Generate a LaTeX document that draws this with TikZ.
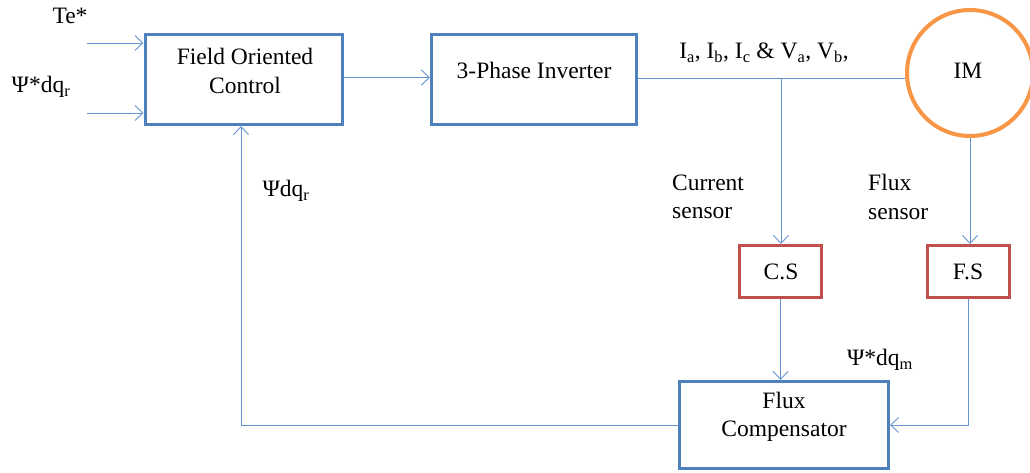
\documentclass[tikz,border=0pt]{standalone}
\usepackage{fontspec}
\setmainfont{Liberation Serif}
\usetikzlibrary{arrows.meta}
\definecolor{bxblue}{RGB}{79,129,189}
\definecolor{bxred}{RGB}{192,80,77}
\definecolor{imorange}{RGB}{247,150,70}
\definecolor{wirecol}{RGB}{100,148,208}
\begin{document}
\begin{tikzpicture}[x=1pt,y=-1pt,
  every node/.style={font=\fontsize{23.5}{28.5}\selectfont, inner sep=0pt},
  bluebox/.style={draw=bxblue, line width=3pt},
  redbox/.style={draw=bxred, line width=3pt},
  wire/.style={draw=wirecol, line width=0.9pt},
  arr/.style={wire, -{Straight Barb[length=8pt,width=15pt]}},
  txt/.style={align=center}]
\useasboundingbox (0,0) rectangle (1030,473);
% boxes
\node[bluebox, minimum width=197, minimum height=90] (foc) at (243.5,79.5) {};
\node[bluebox, minimum width=205, minimum height=90] (inv) at (534,79.5) {};
\node[redbox, minimum width=82, minimum height=52] (cs) at (780.5,271.5) {};
\node[redbox, minimum width=82, minimum height=52] (fs) at (968.5,271.5) {};
\node[bluebox, minimum width=209, minimum height=87] (fc) at (784,425) {};
\node[circle, draw=imorange, line width=4pt, minimum size=126] (im) at (970,73) {};
% box texts
\node[txt] (focT) at (245,71) {Field Oriented\\Control};
\node (invT) at (534,70) {3-Phase Inverter};
\node (imT) at (968,71) {IM};
\node (csT) at (781,272) {C.S};
\node (fsT) at (968,272) {F.S};
\node[txt] (fcT) at (784,417) {Flux\\Compensator};
% labels
\node (te) at (70,16) {Te*};
\node (psiref) at (41,87) {Ψ*dq\textsubscript{r}};
\node (iv) at (764,53) {I\textsubscript{a}, I\textsubscript{b}, I\textsubscript{c} \& V\textsubscript{a}, V\textsubscript{b},};
\node[align=left, anchor=west] (curs) at (672,197) {Current\\sensor};
\node[align=left, anchor=west] (fluxs) at (868,197) {Flux\\sensor};
\node (psim) at (880,360) {Ψ*dq\textsubscript{m}};
\node (psir) at (286,191) {Ψdq\textsubscript{r}};
% connectors
\coordinate (teIn) at (87,43);
\coordinate (psiIn) at (87,113);
\draw[arr] (teIn) -- (teIn -| foc.west);
\draw[arr] (psiIn) -- (psiIn -| foc.west);
\draw[arr] ([yshift=2pt]foc.east) -- ([yshift=2pt]inv.west);
\coordinate (j0) at ([yshift=1.5pt]inv.east);
\draw[wire] (j0) -- (j0 -| im.west);
\coordinate (junc) at (781,78);
\draw[arr] (junc) -- (junc |- cs.north);
\draw[arr] (im.south) -- (im.south |- fs.north);
\draw[arr] (cs.south) -- (cs.south |- fc.north);
\draw[arr] (fs.south) |- (fc.east);
\draw[arr] (fc.west) -| ([xshift=-2.5pt]foc.south);
\end{tikzpicture}
\end{document}
